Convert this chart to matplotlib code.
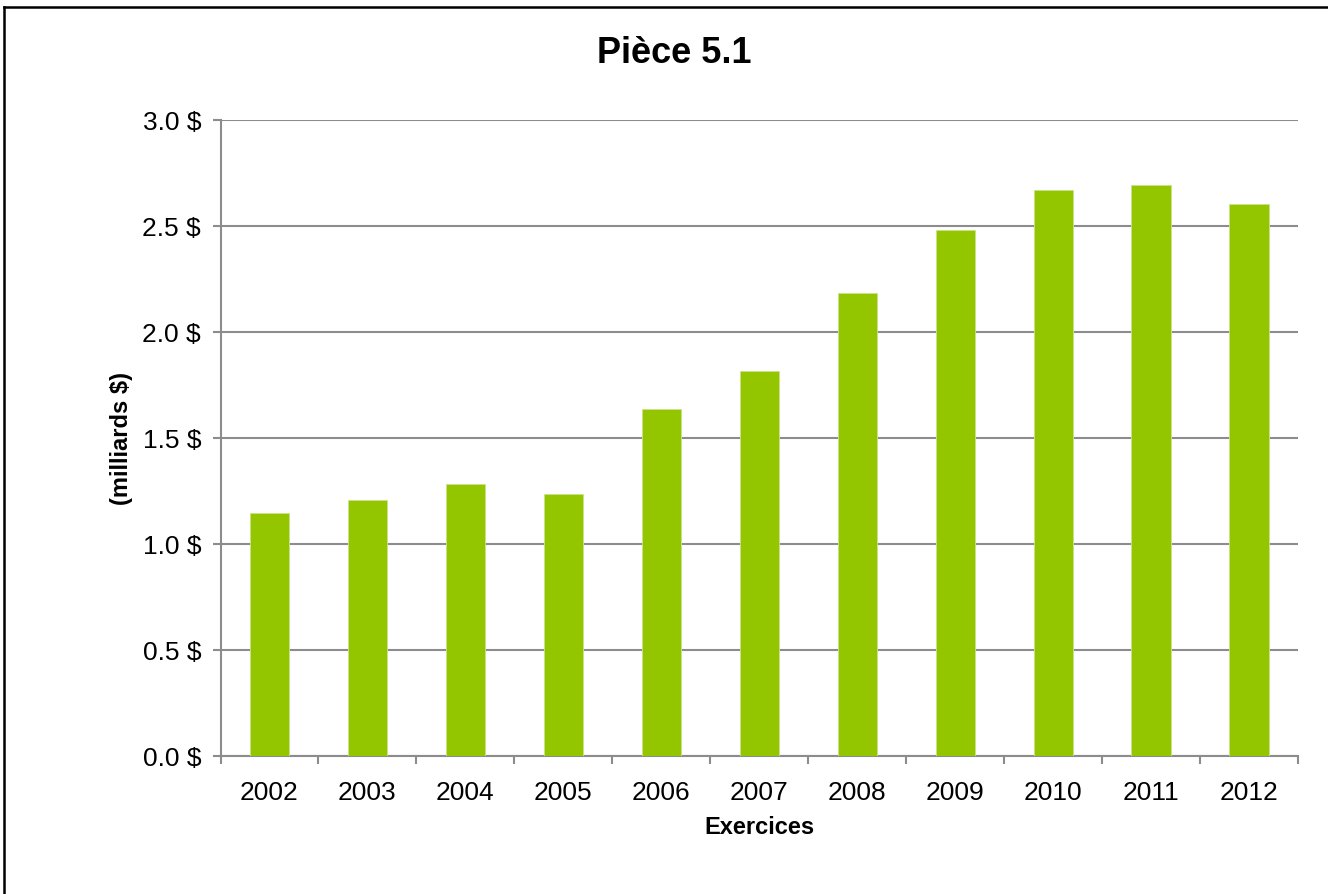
import matplotlib.pyplot as plt
import matplotlib.ticker as mticker
from matplotlib.lines import Line2D

# montants par exercice (milliards $)
exercices = ['2002', '2003', '2004', '2005', '2006', '2007', '2008', '2009', '2010', '2011', '2012']
montants = [1.145, 1.207, 1.284, 1.234, 1.637, 1.817, 2.184, 2.483, 2.668, 2.695, 2.605]

plt.rcParams['font.family'] = ['Liberation Sans', 'DejaVu Sans']

W, H = 1328, 895
fig = plt.figure(figsize=(W / 100, H / 100), dpi=100)
ax = fig.add_axes([220.5 / W, 1 - 757 / H, (1298 - 220.5) / W, (757 - 121) / H])

x = range(len(exercices))
ax.bar(x, montants, width=0.4, color='#94c600', edgecolor='#c8e38a', linewidth=0.6, zorder=3)

ax.set_xlim(-0.5, len(exercices) - 0.5)
ax.set_ylim(0, 3.0)
ax.set_yticks([0, 0.5, 1.0, 1.5, 2.0, 2.5, 3.0])
ax.yaxis.set_major_formatter(mticker.FuncFormatter(lambda v, p: f'{v:.1f} $'))
ax.set_xticks(list(x))
ax.set_xticklabels(exercices)
ax.set_xticks([i - 0.5 for i in range(len(exercices) + 1)], minor=True)

ax.grid(axis='y', color='#8c8c8c', linewidth=1.5, zorder=0)
for s in ['top', 'right']:
    ax.spines[s].set_visible(False)
for s in ['left', 'bottom']:
    ax.spines[s].set_color('#8c8c8c')
    ax.spines[s].set_linewidth(1.5)

ax.tick_params(axis='x', which='major', length=0, labelsize=19, pad=17)
ax.tick_params(axis='x', which='minor', length=6, width=1.5, color='#8c8c8c', direction='out')
ax.tick_params(axis='y', length=6, width=1.5, color='#8c8c8c', labelsize=19, pad=8)

ax.set_xlabel('Exercices', fontsize=17, fontweight='bold', labelpad=8)
ax.set_ylabel('(milliards $)', fontsize=17, fontweight='bold', labelpad=7)
fig.text(674.5 / W, 1 - 62.7 / H, 'Pièce 5.1', fontsize=26, fontweight='bold',
         ha='center', va='baseline')

# cadre : bords haut et gauche seulement
fig.add_artist(Line2D([4 / W, 1], [1 - 7.5 / H, 1 - 7.5 / H], transform=fig.transFigure,
                      color='black', linewidth=1.8))
fig.add_artist(Line2D([4 / W, 4 / W], [0, 1 - 7.5 / H], transform=fig.transFigure,
                      color='black', linewidth=1.8))

fig.savefig('out.png', dpi=100)
